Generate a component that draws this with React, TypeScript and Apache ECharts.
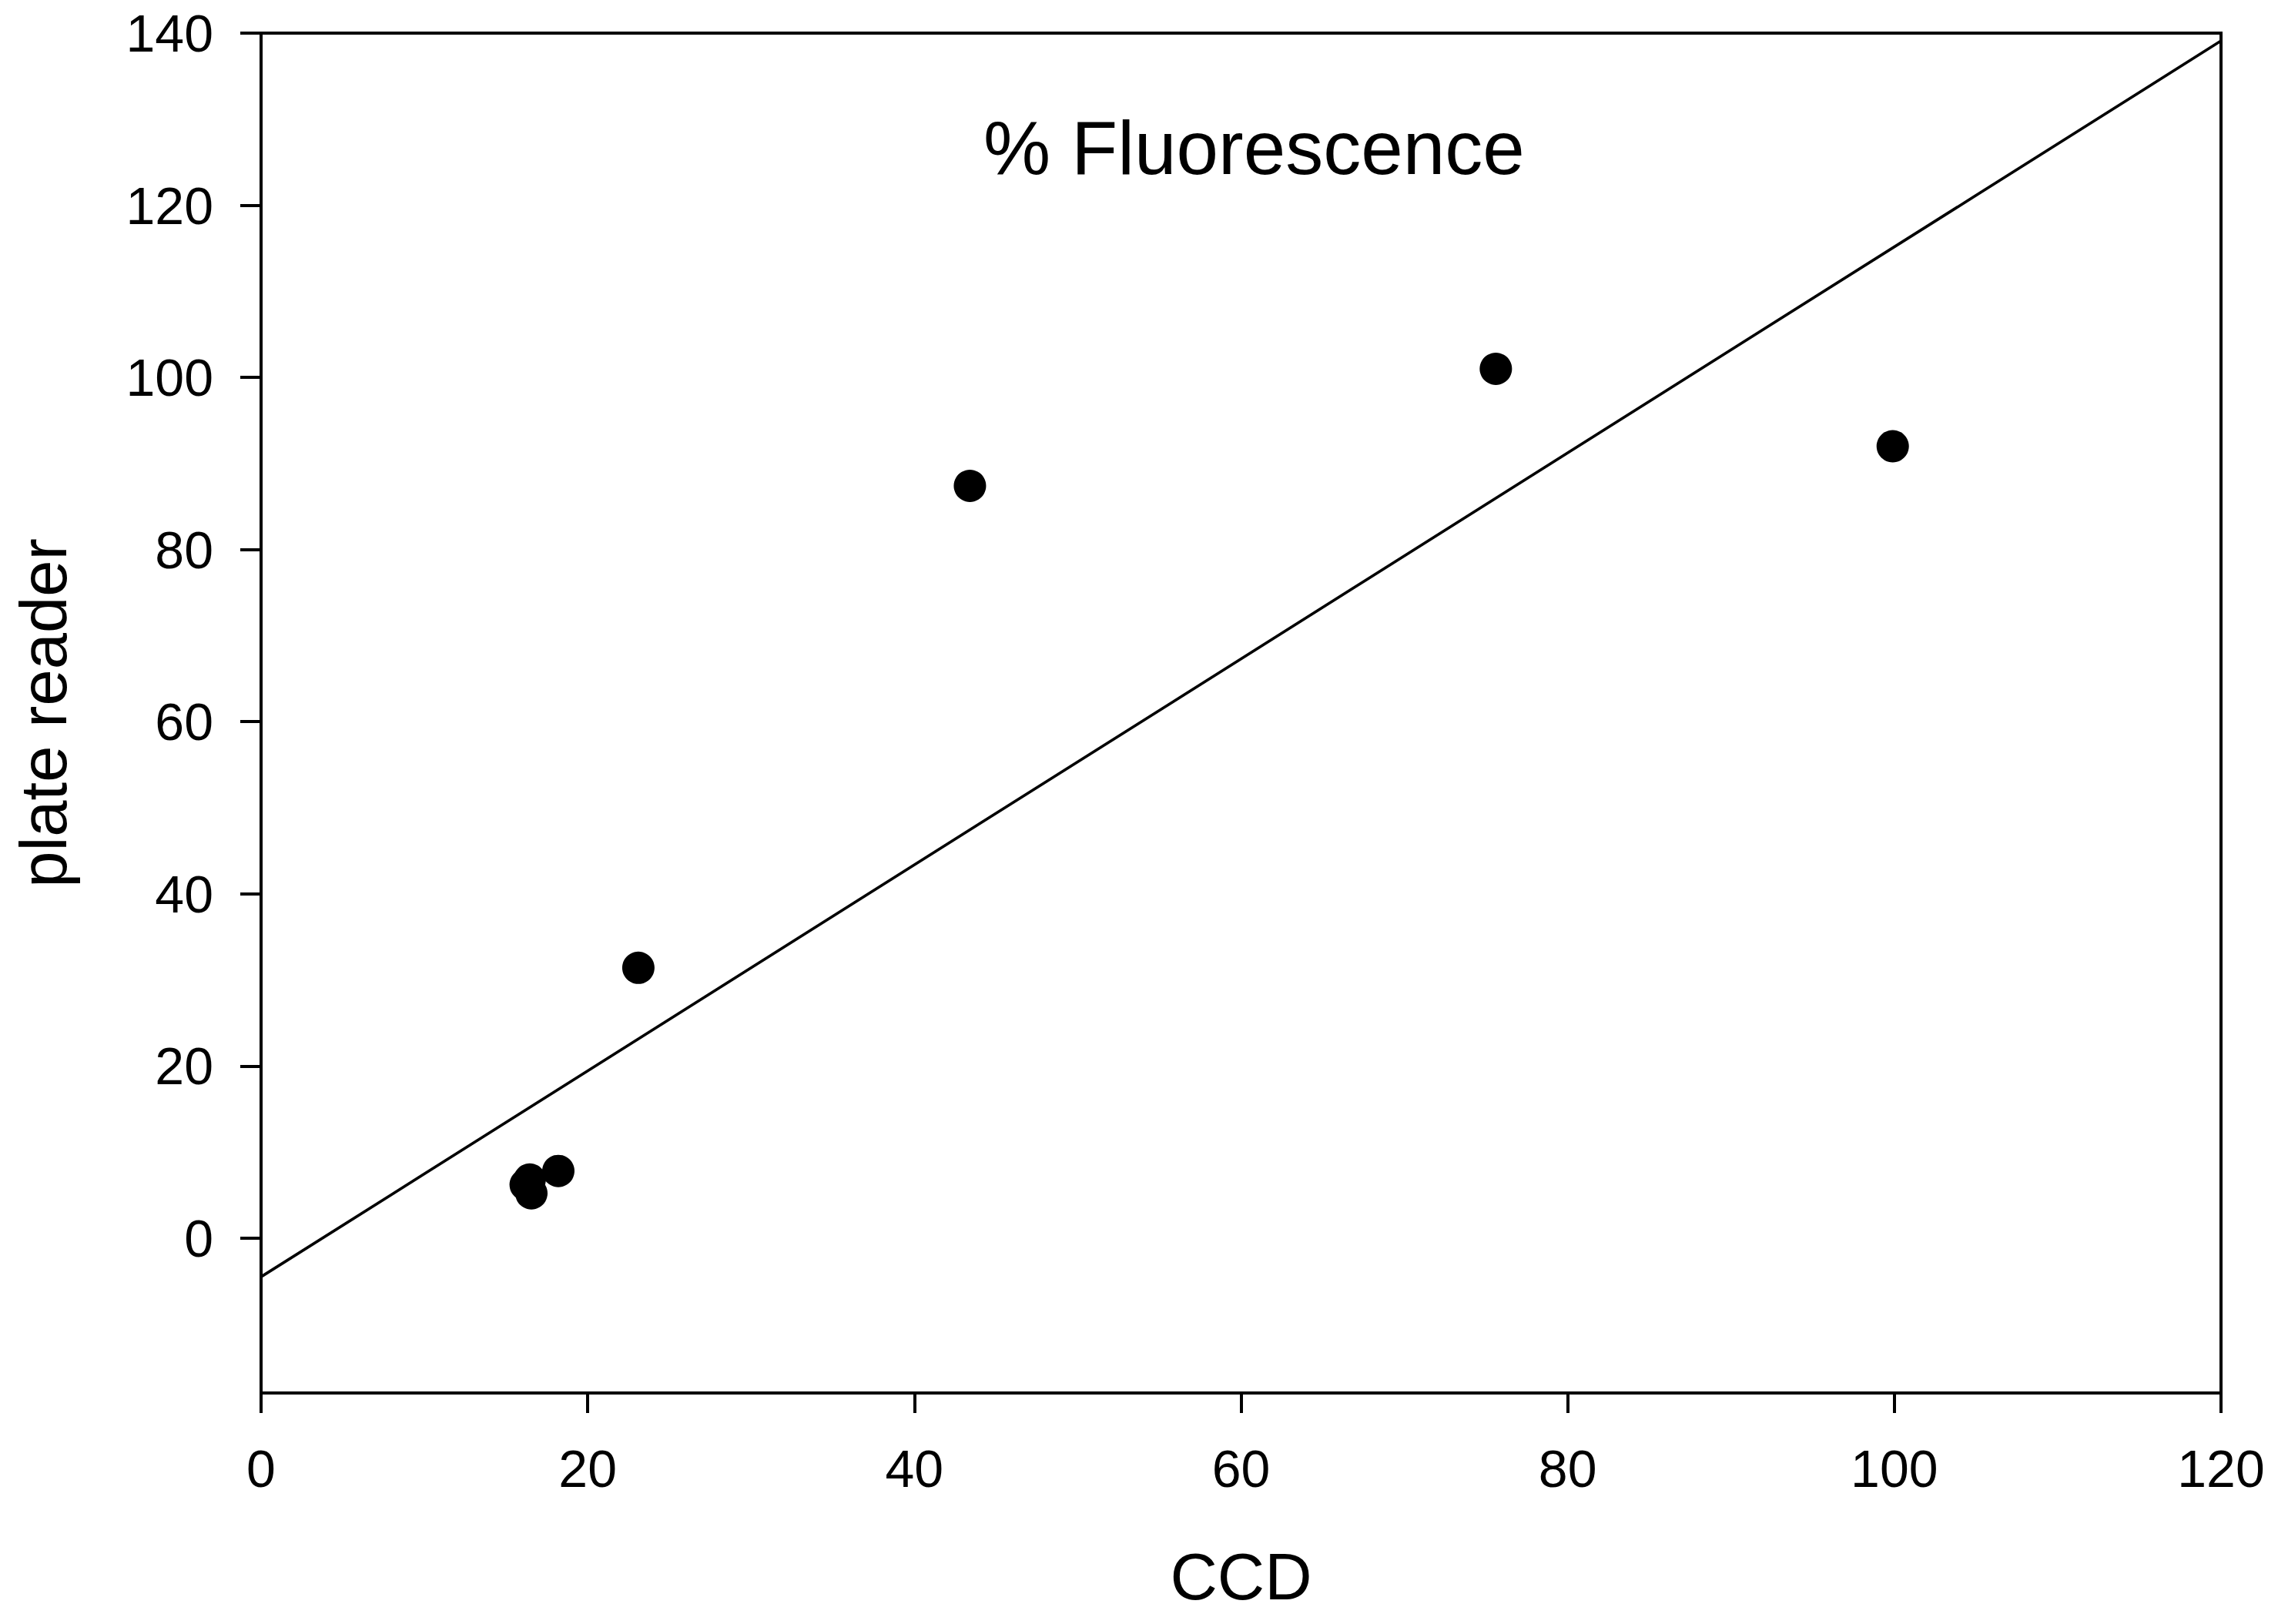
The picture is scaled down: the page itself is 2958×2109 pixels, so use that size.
import React, { useEffect, useRef } from "react";
import * as echarts from "echarts";

// Data
const ccdValues = [75.6, 99.9, 43.4, 23.1, 18.2, 16.2, 16.45, 16.55];
const plateReaderValues = [101.0, 92.0, 87.4, 31.4, 7.8, 6.2, 6.8, 5.2];
const fitLineX = [0, 120];
const fitLineY = [-4.5, 139.1];
const xTicks = [0, 20, 40, 60, 80, 100, 120];
const yTicks = [0, 20, 40, 60, 80, 100, 120, 140];

const FONT = "'Liberation Sans', Arial, Helvetica, sans-serif";

export default function App() {
  const ref = useRef<HTMLDivElement>(null);

  useEffect(() => {
    if (!ref.current) return;
    const chart = echarts.init(ref.current, null, { renderer: "svg" });
    const points = ccdValues.map((x, i) => [x, plateReaderValues[i]]);
    const line = fitLineX.map((x, i) => [x, fitLineY[i]]);
    const axisLineStyle = { color: "#000", width: 4, cap: "square" };

    chart.setOption({
      animation: false,
      backgroundColor: "#fff",
      title: {
        text: "% Fluorescence",
        left: 1272,
        top: 138,
        textStyle: { fontFamily: FONT, fontSize: 98, fontWeight: "normal", color: "#000" },
      },
      grid: { left: 339, right: 74, top: 43, bottom: 300, containLabel: false },
      xAxis: [
        {
          type: "value",
          position: "bottom",
          min: 0,
          max: 120,
          interval: 20,
          name: "CCD",
          nameLocation: "middle",
          nameGap: 196,
          nameTextStyle: { fontFamily: FONT, fontSize: 85, color: "#000" },
          axisLine: { show: true, onZero: false, lineStyle: axisLineStyle },
          axisTick: { show: true, inside: false, length: 26, customValues: xTicks, lineStyle: { color: "#000", width: 4 } },
          axisLabel: { show: true, margin: 64, customValues: xTicks, fontFamily: FONT, fontSize: 68, color: "#000" },
          splitLine: { show: false },
        },
        {
          type: "value",
          position: "top",
          min: 0,
          max: 120,
          axisLine: { show: true, onZero: false, lineStyle: axisLineStyle },
          axisTick: { show: false },
          axisLabel: { show: false },
          splitLine: { show: false },
        },
      ],
      yAxis: [
        {
          type: "value",
          position: "left",
          min: -18,
          max: 140,
          name: "plate reader",
          nameLocation: "middle",
          nameGap: 240,
          nameTextStyle: { fontFamily: FONT, fontSize: 85, color: "#000" },
          axisLine: { show: true, onZero: false, lineStyle: axisLineStyle },
          axisTick: { show: true, inside: false, length: 27, customValues: yTicks, lineStyle: { color: "#000", width: 4 } },
          axisLabel: { show: true, margin: 62, customValues: yTicks, fontFamily: FONT, fontSize: 68, color: "#000" },
          splitLine: { show: false },
        },
        {
          type: "value",
          position: "right",
          min: -18,
          max: 140,
          axisLine: { show: true, onZero: false, lineStyle: axisLineStyle },
          axisTick: { show: false },
          axisLabel: { show: false },
          splitLine: { show: false },
        },
      ],
      series: [
        {
          type: "line",
          data: line,
          xAxisIndex: 0,
          yAxisIndex: 0,
          showSymbol: false,
          symbol: "none",
          lineStyle: { color: "#000", width: 3.6 },
          z: 2,
        },
        {
          type: "scatter",
          data: points,
          xAxisIndex: 0,
          yAxisIndex: 0,
          symbol: "circle",
          symbolSize: 42,
          itemStyle: { color: "#000", opacity: 1 },
          z: 3,
        },
      ],
    });
    return () => chart.dispose();
  }, []);

  return (
    <div
      ref={ref}
      style={{ position: "absolute", left: 0, top: 0, width: 2958, height: 2109, background: "#fff" }}
    />
  );
}
